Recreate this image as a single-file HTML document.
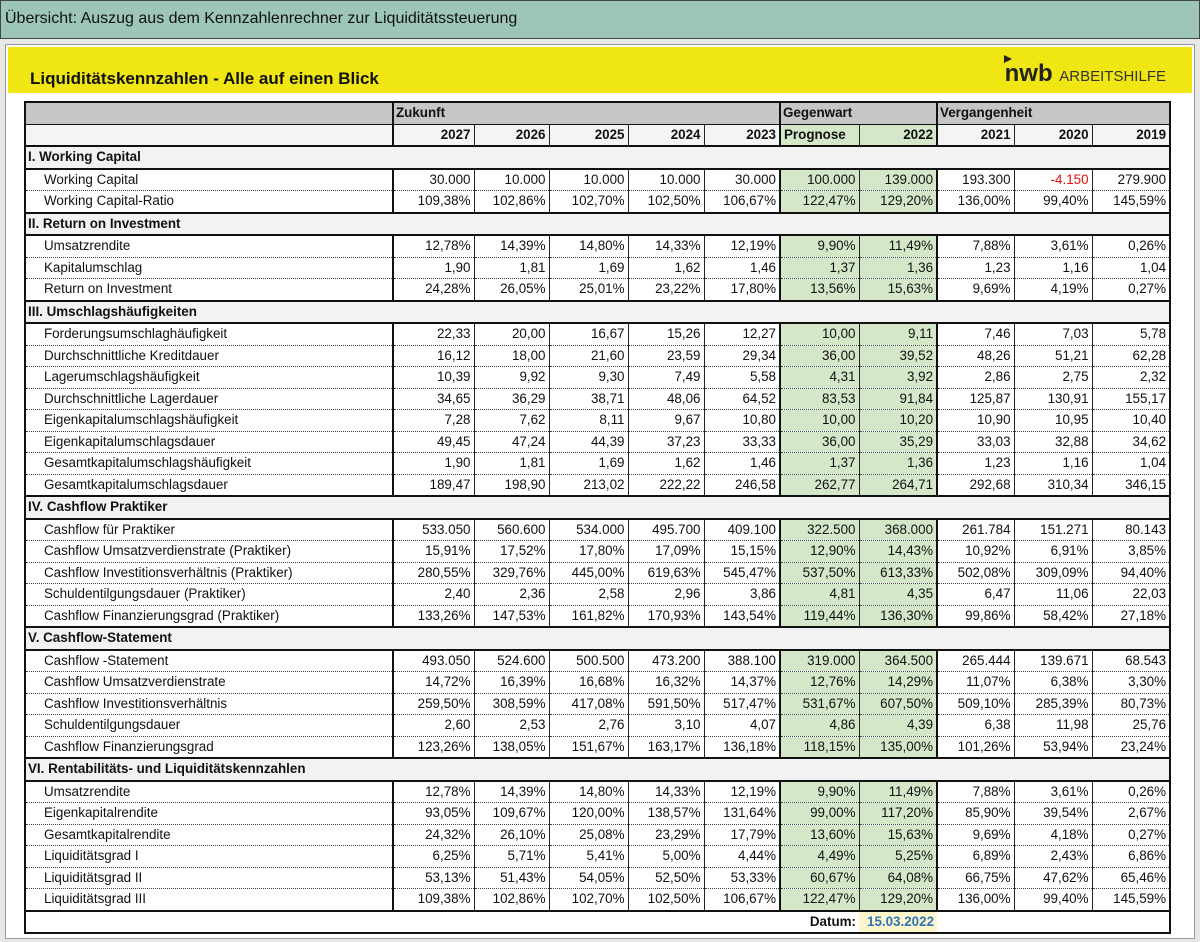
<!DOCTYPE html>
<html><head><meta charset="utf-8"><style>
body{margin:0;width:1200px;height:942px;background:#e8e8e8;font-family:"Liberation Sans",sans-serif;position:relative;overflow:hidden}
#top{position:absolute;left:0;top:0;background:#9dc6b8;border:1px solid #444;font-size:16px;line-height:36px;padding-left:4px;box-sizing:border-box;width:1200px;height:39px;color:#111}
#frame{position:absolute;left:5px;top:44px;width:1190px;height:895px;background:#fff;border:1px solid #999;box-sizing:border-box}
#yel{position:absolute;left:8px;top:47px;width:1184px;height:46px;background:#f0e614}
#yel .t{position:absolute;left:22px;top:22px;font-size:17px;font-weight:bold;color:#111}
#yel .n{position:absolute;right:26px;top:13px;font-size:24px;font-weight:bold;color:#222}
#yel .n span{font-size:15px;font-weight:normal;color:#333}
#yel .tri{position:absolute;right:180px;top:8px;width:0;height:0;border-left:8px solid #222;border-top:4px solid transparent;border-bottom:4px solid transparent}
table{position:absolute;left:24px;top:101px;border-collapse:collapse;table-layout:fixed;font-size:13.4px;color:#111;border:2px solid #111}
td{height:20.5px;padding:0 3px;white-space:nowrap;overflow:hidden;border-left:1px solid #222;border-bottom:1px dotted #444;text-align:right;line-height:18px}
td.l{text-align:left;padding-left:18px;border-left:none}
td.g{background:#d4e7c9}
.tk{border-left:2px solid #111}
tr.h1 td{background:#c6c6c6;font-weight:bold;text-align:left;border-bottom:1px solid #111;border-left:none}
tr.h1 td.tk{border-left:2px solid #111}
tr.h2 td{font-weight:bold;background:#f4f4f4;border-bottom:2px solid #111}
tr.h2 td.g{background:#d4e7c9}
tr.s td{background:#f2f2f2;font-weight:bold;text-align:left;border:none;border-top:2px solid #111;border-bottom:2px solid #111;padding-left:2px}
tr.e td{border-bottom:none}
tr.d td{border:none;border-top:2px solid #111;font-weight:bold}
.r{color:#e01010}
</style></head><body>
<div id="top">Übersicht: Auszug aus dem Kennzahlenrechner zur Liquiditätssteuerung</div>
<div id="frame"></div>
<div id="yel"><div class="t">Liquiditätskennzahlen - Alle auf einen Blick</div><div class="tri"></div><div class="n">nwb <span>ARBEITSHILFE</span></div></div>
<table>
<colgroup><col style="width:368px"><col style="width:81px"><col style="width:75px"><col style="width:79px"><col style="width:76px"><col style="width:76px"><col style="width:79px"><col style="width:77px"><col style="width:77px"><col style="width:78px"><col style="width:78px"></colgroup>
<tr class="h1"><td></td><td class="tk" colspan="5" style="padding-left:2px">Zukunft</td><td class="tk" colspan="2" style="padding-left:2px">Gegenwart</td><td class="tk" colspan="3" style="padding-left:2px">Vergangenheit</td></tr>
<tr class="h2"><td class="l"></td><td class="tk">2027</td><td>2026</td><td>2025</td><td>2024</td><td>2023</td><td class="tk g" style="text-align:left">Prognose</td><td class="g">2022</td><td class="tk">2021</td><td>2020</td><td>2019</td></tr>
<tr class="s"><td colspan="11">I. Working Capital</td></tr>
<tr><td class="l">Working Capital</td><td class="tk">30.000</td><td>10.000</td><td>10.000</td><td>10.000</td><td>30.000</td><td class="tk g">100.000</td><td class="g">139.000</td><td class="tk">193.300</td><td class="r">-4.150</td><td>279.900</td></tr>
<tr class="e"><td class="l">Working Capital-Ratio</td><td class="tk">109,38%</td><td>102,86%</td><td>102,70%</td><td>102,50%</td><td>106,67%</td><td class="tk g">122,47%</td><td class="g">129,20%</td><td class="tk">136,00%</td><td>99,40%</td><td>145,59%</td></tr>
<tr class="s"><td colspan="11">II. Return on Investment</td></tr>
<tr><td class="l">Umsatzrendite</td><td class="tk">12,78%</td><td>14,39%</td><td>14,80%</td><td>14,33%</td><td>12,19%</td><td class="tk g">9,90%</td><td class="g">11,49%</td><td class="tk">7,88%</td><td>3,61%</td><td>0,26%</td></tr>
<tr><td class="l">Kapitalumschlag</td><td class="tk">1,90</td><td>1,81</td><td>1,69</td><td>1,62</td><td>1,46</td><td class="tk g">1,37</td><td class="g">1,36</td><td class="tk">1,23</td><td>1,16</td><td>1,04</td></tr>
<tr class="e"><td class="l">Return on Investment</td><td class="tk">24,28%</td><td>26,05%</td><td>25,01%</td><td>23,22%</td><td>17,80%</td><td class="tk g">13,56%</td><td class="g">15,63%</td><td class="tk">9,69%</td><td>4,19%</td><td>0,27%</td></tr>
<tr class="s"><td colspan="11">III. Umschlagshäufigkeiten</td></tr>
<tr><td class="l">Forderungsumschlaghäufigkeit</td><td class="tk">22,33</td><td>20,00</td><td>16,67</td><td>15,26</td><td>12,27</td><td class="tk g">10,00</td><td class="g">9,11</td><td class="tk">7,46</td><td>7,03</td><td>5,78</td></tr>
<tr><td class="l">Durchschnittliche Kreditdauer</td><td class="tk">16,12</td><td>18,00</td><td>21,60</td><td>23,59</td><td>29,34</td><td class="tk g">36,00</td><td class="g">39,52</td><td class="tk">48,26</td><td>51,21</td><td>62,28</td></tr>
<tr><td class="l">Lagerumschlagshäufigkeit</td><td class="tk">10,39</td><td>9,92</td><td>9,30</td><td>7,49</td><td>5,58</td><td class="tk g">4,31</td><td class="g">3,92</td><td class="tk">2,86</td><td>2,75</td><td>2,32</td></tr>
<tr><td class="l">Durchschnittliche Lagerdauer</td><td class="tk">34,65</td><td>36,29</td><td>38,71</td><td>48,06</td><td>64,52</td><td class="tk g">83,53</td><td class="g">91,84</td><td class="tk">125,87</td><td>130,91</td><td>155,17</td></tr>
<tr><td class="l">Eigenkapitalumschlagshäufigkeit</td><td class="tk">7,28</td><td>7,62</td><td>8,11</td><td>9,67</td><td>10,80</td><td class="tk g">10,00</td><td class="g">10,20</td><td class="tk">10,90</td><td>10,95</td><td>10,40</td></tr>
<tr><td class="l">Eigenkapitalumschlagsdauer</td><td class="tk">49,45</td><td>47,24</td><td>44,39</td><td>37,23</td><td>33,33</td><td class="tk g">36,00</td><td class="g">35,29</td><td class="tk">33,03</td><td>32,88</td><td>34,62</td></tr>
<tr><td class="l">Gesamtkapitalumschlagshäufigkeit</td><td class="tk">1,90</td><td>1,81</td><td>1,69</td><td>1,62</td><td>1,46</td><td class="tk g">1,37</td><td class="g">1,36</td><td class="tk">1,23</td><td>1,16</td><td>1,04</td></tr>
<tr class="e"><td class="l">Gesamtkapitalumschlagsdauer</td><td class="tk">189,47</td><td>198,90</td><td>213,02</td><td>222,22</td><td>246,58</td><td class="tk g">262,77</td><td class="g">264,71</td><td class="tk">292,68</td><td>310,34</td><td>346,15</td></tr>
<tr class="s"><td colspan="11">IV. Cashflow Praktiker</td></tr>
<tr><td class="l">Cashflow für Praktiker</td><td class="tk">533.050</td><td>560.600</td><td>534.000</td><td>495.700</td><td>409.100</td><td class="tk g">322.500</td><td class="g">368.000</td><td class="tk">261.784</td><td>151.271</td><td>80.143</td></tr>
<tr><td class="l">Cashflow Umsatzverdienstrate (Praktiker)</td><td class="tk">15,91%</td><td>17,52%</td><td>17,80%</td><td>17,09%</td><td>15,15%</td><td class="tk g">12,90%</td><td class="g">14,43%</td><td class="tk">10,92%</td><td>6,91%</td><td>3,85%</td></tr>
<tr><td class="l">Cashflow Investitionsverhältnis (Praktiker)</td><td class="tk">280,55%</td><td>329,76%</td><td>445,00%</td><td>619,63%</td><td>545,47%</td><td class="tk g">537,50%</td><td class="g">613,33%</td><td class="tk">502,08%</td><td>309,09%</td><td>94,40%</td></tr>
<tr><td class="l">Schuldentilgungsdauer (Praktiker)</td><td class="tk">2,40</td><td>2,36</td><td>2,58</td><td>2,96</td><td>3,86</td><td class="tk g">4,81</td><td class="g">4,35</td><td class="tk">6,47</td><td>11,06</td><td>22,03</td></tr>
<tr class="e"><td class="l">Cashflow Finanzierungsgrad (Praktiker)</td><td class="tk">133,26%</td><td>147,53%</td><td>161,82%</td><td>170,93%</td><td>143,54%</td><td class="tk g">119,44%</td><td class="g">136,30%</td><td class="tk">99,86%</td><td>58,42%</td><td>27,18%</td></tr>
<tr class="s"><td colspan="11">V. Cashflow-Statement</td></tr>
<tr><td class="l">Cashflow -Statement</td><td class="tk">493.050</td><td>524.600</td><td>500.500</td><td>473.200</td><td>388.100</td><td class="tk g">319.000</td><td class="g">364.500</td><td class="tk">265.444</td><td>139.671</td><td>68.543</td></tr>
<tr><td class="l">Cashflow Umsatzverdienstrate</td><td class="tk">14,72%</td><td>16,39%</td><td>16,68%</td><td>16,32%</td><td>14,37%</td><td class="tk g">12,76%</td><td class="g">14,29%</td><td class="tk">11,07%</td><td>6,38%</td><td>3,30%</td></tr>
<tr><td class="l">Cashflow Investitionsverhältnis</td><td class="tk">259,50%</td><td>308,59%</td><td>417,08%</td><td>591,50%</td><td>517,47%</td><td class="tk g">531,67%</td><td class="g">607,50%</td><td class="tk">509,10%</td><td>285,39%</td><td>80,73%</td></tr>
<tr><td class="l">Schuldentilgungsdauer</td><td class="tk">2,60</td><td>2,53</td><td>2,76</td><td>3,10</td><td>4,07</td><td class="tk g">4,86</td><td class="g">4,39</td><td class="tk">6,38</td><td>11,98</td><td>25,76</td></tr>
<tr class="e"><td class="l">Cashflow Finanzierungsgrad</td><td class="tk">123,26%</td><td>138,05%</td><td>151,67%</td><td>163,17%</td><td>136,18%</td><td class="tk g">118,15%</td><td class="g">135,00%</td><td class="tk">101,26%</td><td>53,94%</td><td>23,24%</td></tr>
<tr class="s"><td colspan="11">VI. Rentabilitäts- und Liquiditätskennzahlen</td></tr>
<tr><td class="l">Umsatzrendite</td><td class="tk">12,78%</td><td>14,39%</td><td>14,80%</td><td>14,33%</td><td>12,19%</td><td class="tk g">9,90%</td><td class="g">11,49%</td><td class="tk">7,88%</td><td>3,61%</td><td>0,26%</td></tr>
<tr><td class="l">Eigenkapitalrendite</td><td class="tk">93,05%</td><td>109,67%</td><td>120,00%</td><td>138,57%</td><td>131,64%</td><td class="tk g">99,00%</td><td class="g">117,20%</td><td class="tk">85,90%</td><td>39,54%</td><td>2,67%</td></tr>
<tr><td class="l">Gesamtkapitalrendite</td><td class="tk">24,32%</td><td>26,10%</td><td>25,08%</td><td>23,29%</td><td>17,79%</td><td class="tk g">13,60%</td><td class="g">15,63%</td><td class="tk">9,69%</td><td>4,18%</td><td>0,27%</td></tr>
<tr><td class="l">Liquiditätsgrad I</td><td class="tk">6,25%</td><td>5,71%</td><td>5,41%</td><td>5,00%</td><td>4,44%</td><td class="tk g">4,49%</td><td class="g">5,25%</td><td class="tk">6,89%</td><td>2,43%</td><td>6,86%</td></tr>
<tr><td class="l">Liquiditätsgrad II</td><td class="tk">53,13%</td><td>51,43%</td><td>54,05%</td><td>52,50%</td><td>53,33%</td><td class="tk g">60,67%</td><td class="g">64,08%</td><td class="tk">66,75%</td><td>47,62%</td><td>65,46%</td></tr>
<tr class="e"><td class="l">Liquiditätsgrad III</td><td class="tk">109,38%</td><td>102,86%</td><td>102,70%</td><td>102,50%</td><td>106,67%</td><td class="tk g">122,47%</td><td class="g">129,20%</td><td class="tk">136,00%</td><td>99,40%</td><td>145,59%</td></tr>
<tr class="d"><td colspan="6"></td><td style="text-align:right">Datum:</td><td style="background:#fdf6cc;color:#2e75b6;text-align:left;padding-left:8px">15.03.2022</td><td colspan="3"></td></tr>
</table>
</body></html>
